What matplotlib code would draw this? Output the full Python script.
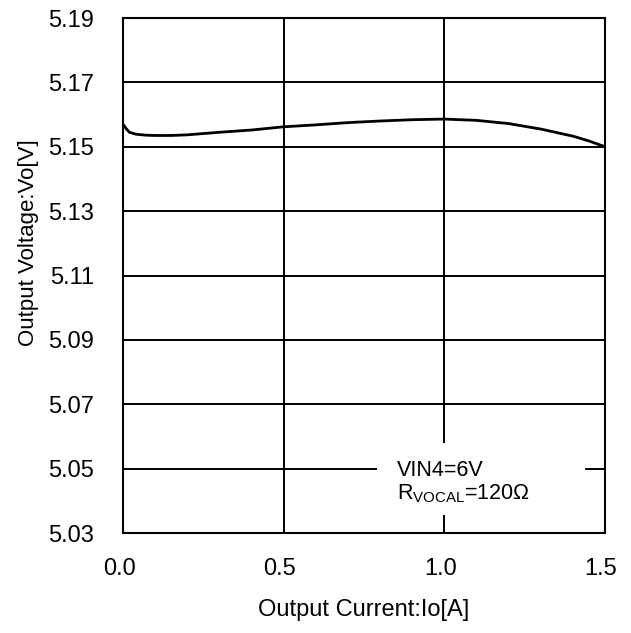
import matplotlib
matplotlib.use("Agg")
import matplotlib.pyplot as plt
from matplotlib.patches import Rectangle
from matplotlib.transforms import ScaledTranslation

current = [0.0, 0.01, 0.02, 0.04, 0.07, 0.1, 0.15, 0.2, 0.3, 0.4, 0.5, 0.6, 0.7, 0.8,
           0.9, 1.0, 1.1, 1.2, 1.3, 1.4, 1.45, 1.5]
voltage = [5.1570, 5.1556, 5.1545, 5.1539, 5.1536, 5.1535, 5.1535, 5.1537, 5.1545,
           5.1552, 5.1562, 5.1568, 5.1575, 5.1580, 5.1584, 5.1586, 5.1582, 5.1572,
           5.1555, 5.1533, 5.1518, 5.1500]
xticks = [0.0, 0.5, 1.0, 1.5]
yticks = [5.03, 5.05, 5.07, 5.09, 5.11, 5.13, 5.15, 5.17, 5.19]
note_line1 = "VIN4=6V"
note_line2 = r"R$_{\mathrm{VOCAL}}$=120Ω"

plt.rcParams['font.family'] = ['Liberation Sans', 'DejaVu Sans']
plt.rcParams['mathtext.fontset'] = 'custom'
plt.rcParams['mathtext.rm'] = 'Liberation Sans'
plt.rcParams['mathtext.it'] = 'Liberation Sans'

fig = plt.figure(figsize=(6.31, 6.33), dpi=100)
ax = fig.add_axes([123/631, 1 - 533/633, (605-123)/631, (533-18)/633])

ax.set_xlim(0, 1.5)
ax.set_ylim(5.03, 5.19)
ax.set_xticks(xticks)
ax.set_yticks(yticks)
ax.set_xticklabels([f"{v:.1f}" for v in xticks])
ax.set_yticklabels([f"{v:.2f}" for v in yticks])
ax.tick_params(length=0, labelsize=17, colors='black')
ax.tick_params(axis='x', pad=18)
ax.tick_params(axis='y', pad=21)
shift = ScaledTranslation(-4/100, 0, fig.dpi_scale_trans)
for lab in ax.get_xticklabels():
    lab.set_transform(lab.get_transform() + shift)
ax.grid(True, color='black', linewidth=1.4, zorder=0)
for s in ax.spines.values():
    s.set_linewidth(1.5)
    s.set_color('black')
    s.set_zorder(5)

ax.plot(current, voltage, color='black', linewidth=2.0, zorder=3)

ax.add_patch(Rectangle((0.790, 5.0356), 1.438 - 0.790, 5.058 - 5.0356,
                       facecolor='white', edgecolor='none', zorder=2))
ax.text(0.853, 5.0477, note_line1, fontsize=15.5, va='baseline', ha='left', zorder=4)
ax.text(0.853, 5.0403, note_line2, fontsize=15.5, va='baseline', ha='left', zorder=4)

ax.set_xlabel("Output Current:Io[A]", fontsize=17, labelpad=14)
ax.set_ylabel("Output Voltage:Vo[V]", fontsize=16, labelpad=10)
ax.yaxis.set_label_coords(-0.175, (533 - 242.5) / 515)

fig.savefig("out.png", dpi=100)
